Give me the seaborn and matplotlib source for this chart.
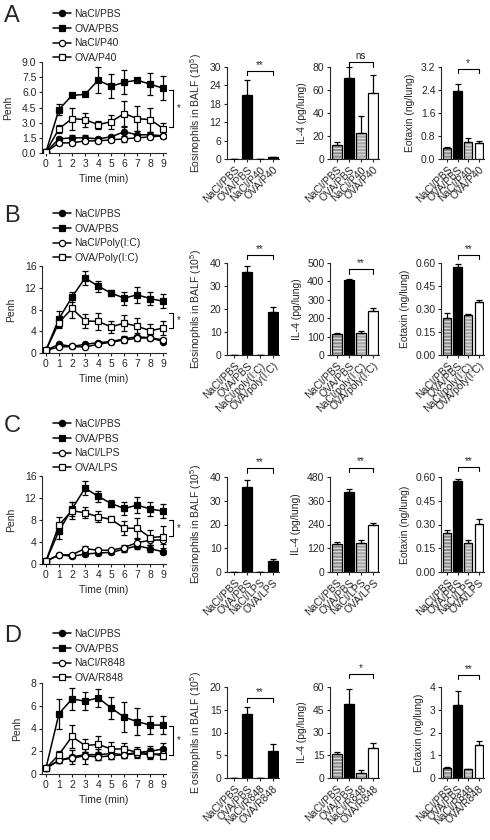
import numpy as np
import matplotlib
matplotlib.use("Agg")
import matplotlib.pyplot as plt
import matplotlib.ticker as mticker
from matplotlib.patches import Rectangle
import seaborn as sns

# ---- Penh time course (0-9 min), mean and SEM ----
minutes = list(range(10))

A_nacl_pbs = [0.1, 1.4, 1.5, 1.5, 1.4, 1.6, 2.1, 1.8, 1.8, 1.7]
A_nacl_pbs_sem = [0.05, 0.2, 0.3, 0.3, 0.2, 0.2, 0.5, 0.4, 0.3, 0.2]
A_ova_pbs = [0.1, 4.3, 5.7, 5.8, 7.2, 6.6, 7.0, 7.2, 6.8, 6.4]
A_ova_pbs_sem = [0.05, 0.5, 0.2, 0.2, 1.3, 1.2, 1.2, 0.2, 1.1, 1.2]
A_nacl_trt = [0.1, 1.0, 1.0, 1.2, 1.2, 1.3, 1.4, 1.5, 1.6, 1.7]
A_nacl_trt_sem = [0.05, 0.2, 0.2, 0.2, 0.2, 0.2, 0.3, 0.2, 0.2, 0.2]
A_ova_trt = [0.1, 2.4, 3.4, 3.3, 2.8, 3.1, 3.9, 3.4, 3.3, 2.4]
A_ova_trt_sem = [0.05, 0.4, 1.1, 0.7, 0.4, 0.7, 1.2, 1.2, 1.2, 0.6]

B_nacl_pbs = [0.5, 1.6, 1.2, 1.6, 1.9, 2.1, 2.6, 3.0, 2.8, 2.1]
B_nacl_pbs_sem = [0.2, 0.3, 0.3, 0.3, 0.3, 0.3, 0.5, 0.6, 0.5, 0.3]
B_ova_pbs = [0.5, 6.3, 10.3, 13.8, 12.3, 11.0, 10.1, 10.7, 10.0, 9.5]
B_ova_pbs_sem = [0.2, 1.5, 1.0, 1.3, 1.0, 0.6, 1.2, 1.5, 1.2, 1.3]
B_nacl_trt = [0.5, 1.1, 1.2, 1.1, 1.6, 2.0, 2.4, 2.7, 2.8, 2.4]
B_nacl_trt_sem = [0.2, 0.2, 0.2, 0.2, 0.3, 0.3, 0.6, 0.5, 0.4, 0.4]
B_ova_trt = [0.5, 5.6, 8.2, 5.9, 5.8, 4.8, 5.5, 4.9, 4.1, 4.6]
B_ova_trt_sem = [0.2, 1.0, 1.8, 1.3, 1.5, 1.1, 1.5, 1.5, 1.2, 1.2]

C_nacl_pbs = [0.5, 1.7, 1.4, 1.8, 2.0, 2.1, 2.7, 3.3, 2.8, 2.2]
C_nacl_pbs_sem = [0.2, 0.3, 0.3, 0.4, 0.3, 0.3, 0.5, 0.6, 0.6, 0.4]
C_ova_pbs = [0.5, 6.0, 10.0, 13.8, 12.3, 11.0, 10.1, 10.7, 10.0, 9.6]
C_ova_pbs_sem = [0.2, 1.5, 1.3, 1.3, 1.0, 0.6, 1.2, 1.5, 1.2, 1.3]
C_nacl_trt = [0.5, 1.6, 1.7, 2.8, 2.5, 2.5, 3.0, 3.9, 4.3, 4.4]
C_nacl_trt_sem = [0.2, 0.2, 0.2, 0.5, 0.4, 0.3, 0.4, 0.6, 0.8, 0.8]
C_ova_trt = [0.5, 7.1, 9.7, 9.3, 8.6, 8.1, 6.5, 6.5, 4.8, 5.0]
C_ova_trt_sem = [0.2, 1.5, 1.5, 1.0, 1.0, 0.3, 1.3, 1.8, 1.3, 2.0]

D_nacl_pbs = [0.5, 1.2, 1.5, 1.7, 1.7, 1.8, 1.7, 1.9, 2.0, 2.2]
D_nacl_pbs_sem = [0.1, 0.2, 0.6, 0.8, 0.5, 0.5, 0.3, 0.3, 0.5, 0.5]
D_ova_pbs = [0.5, 5.3, 6.6, 6.4, 6.7, 5.8, 5.0, 4.6, 4.3, 4.3]
D_ova_pbs_sem = [0.1, 1.3, 1.0, 0.8, 0.8, 1.0, 1.3, 1.2, 0.8, 0.8]
D_nacl_trt = [0.5, 1.2, 1.4, 1.6, 1.5, 1.6, 1.7, 1.8, 1.7, 1.8]
D_nacl_trt_sem = [0.1, 0.2, 0.3, 0.3, 0.3, 0.3, 0.3, 0.3, 0.3, 0.3]
D_ova_trt = [0.5, 1.7, 3.3, 2.5, 2.6, 2.2, 2.2, 1.9, 1.8, 1.6]
D_ova_trt_sem = [0.1, 0.3, 1.0, 0.6, 0.7, 0.6, 0.5, 0.5, 0.5, 0.3]

# ---- group names ----
A_legend = ["NaCl/PBS", "OVA/PBS", "NaCl/P40", "OVA/P40"]
B_legend = ["NaCl/PBS", "OVA/PBS", "NaCl/Poly(I:C)", "OVA/Poly(I:C)"]
C_legend = ["NaCl/PBS", "OVA/PBS", "NaCl/LPS", "OVA/LPS"]
D_legend = ["NaCl/PBS", "OVA/PBS", "NaCl/R848", "OVA/R848"]

A_groups = ["NaCl/PBS", "OVA/PBS", "NaCl/P40", "OVA/P40"]
B_groups = ["NaCl/PBS", "OVA/PBS", "NaCl/poly(I:C)", "OVA/poly(I:C)"]
C_groups = ["NaCl/PBS", "OVA/PBS", "NaCl/LPS", "OVA/LPS"]
D_groups = ["NaCl/PBS", "OVA/PBS", "NaCl/R848", "OVA/R848"]

# ---- bar data: eosinophils, IL-4, eotaxin ----
A_eos = [0, 20.8, 0, 0.5]
A_eos_sem = [0, 4.8, 0, 0.3]
A_il4 = [12.5, 70, 22.5, 57]
A_il4_sem = [2, 10, 14.5, 16]
A_eotaxin = [0.40, 2.35, 0.58, 0.55]
A_eotaxin_sem = [0.02, 0.25, 0.15, 0.08]

B_eos = [0, 36, 0, 18.8]
B_eos_sem = [0, 2.8, 0, 2.0]
B_il4 = [115, 405, 118, 238]
B_il4_sem = [3, 10, 12, 15]
B_eotaxin = [0.24, 0.575, 0.26, 0.345]
B_eotaxin_sem = [0.035, 0.017, 0.006, 0.015]

C_eos = [0, 36, 0, 4.8]
C_eos_sem = [0, 2.8, 0, 0.8]
C_il4 = [140, 405, 145, 235]
C_il4_sem = [10, 12, 15, 12]
C_eotaxin = [0.245, 0.575, 0.185, 0.305]
C_eotaxin_sem = [0.02, 0.015, 0.015, 0.03]

D_eos = [0, 14, 0, 6]
D_eos_sem = [0, 1.5, 0, 1.5]
D_il4 = [15.5, 48.5, 3, 20]
D_il4_sem = [1.8, 10.5, 2, 3]
D_eotaxin = [0.45, 3.22, 0.38, 1.47]
D_eotaxin_sem = [0.03, 0.62, 0.02, 0.15]

penh_sig = ["*", "*", "*", "*"]
eos_sig = ["**", "**", "**", "**"]
il4_sig = ["ns", "**", "**", "*"]
eotaxin_sig = ["*", "**", "**", "**"]

eos_label = ["Eosinophils in BALF (10$^5$)"] * 3 + ["E osinophils in BALF (10$^5$)"]

sns.set_theme(style="ticks")
plt.rcParams['font.family'] = ['Liberation Sans', 'DejaVu Sans']
plt.rcParams['mathtext.default'] = 'regular'
plt.rcParams['axes.linewidth'] = 0.8
plt.rcParams['xtick.major.width'] = 0.8
plt.rcParams['ytick.major.width'] = 0.8
plt.rcParams['xtick.major.size'] = 2.5
plt.rcParams['ytick.major.size'] = 2.5
plt.rcParams['xtick.major.pad'] = 1.5
plt.rcParams['ytick.major.pad'] = 1.5
plt.rcParams['hatch.linewidth'] = 0.9

W, H = 490, 840
fig = plt.figure(figsize=(W / 100, H / 100), dpi=100)


def px_axes(x0, x1, y0, y1):
    # pixel box (top-left origin) -> figure axes
    return fig.add_axes([x0 / W, 1 - y1 / H, (x1 - x0) / W, (y1 - y0) / H])


rows = [
    dict(letter="A", legend=A_legend, groups=A_groups,
         lines=[(A_nacl_pbs, A_nacl_pbs_sem), (A_ova_pbs, A_ova_pbs_sem),
                (A_nacl_trt, A_nacl_trt_sem), (A_ova_trt, A_ova_trt_sem)],
         bars=[(A_eos, A_eos_sem), (A_il4, A_il4_sem), (A_eotaxin, A_eotaxin_sem)]),
    dict(letter="B", legend=B_legend, groups=B_groups,
         lines=[(B_nacl_pbs, B_nacl_pbs_sem), (B_ova_pbs, B_ova_pbs_sem),
                (B_nacl_trt, B_nacl_trt_sem), (B_ova_trt, B_ova_trt_sem)],
         bars=[(B_eos, B_eos_sem), (B_il4, B_il4_sem), (B_eotaxin, B_eotaxin_sem)]),
    dict(letter="C", legend=C_legend, groups=C_groups,
         lines=[(C_nacl_pbs, C_nacl_pbs_sem), (C_ova_pbs, C_ova_pbs_sem),
                (C_nacl_trt, C_nacl_trt_sem), (C_ova_trt, C_ova_trt_sem)],
         bars=[(C_eos, C_eos_sem), (C_il4, C_il4_sem), (C_eotaxin, C_eotaxin_sem)]),
    dict(letter="D", legend=D_legend, groups=D_groups,
         lines=[(D_nacl_pbs, D_nacl_pbs_sem), (D_ova_pbs, D_ova_pbs_sem),
                (D_nacl_trt, D_nacl_trt_sem), (D_ova_trt, D_ova_trt_sem)],
         bars=[(D_eos, D_eos_sem), (D_il4, D_il4_sem), (D_eotaxin, D_eotaxin_sem)]),
]

# layout (pixels) and axis styling per row
line_box = [(62, 153), (266, 353), (476, 564), (683, 774)]
bar_box = [(67, 159), (263, 355), (477, 572), (687, 778)]
legend_y = [15, 215, 425, 635]
penh_lim = [(9, 1.5, '%.1f'), (16, 4, '%d'), (16, 4, '%d'), (8, 2, '%d')]
penh_bracket = [(6.2, 2.6), (7.4, 4.6), (8.0, 5.1), (4.2, 1.7)]
bar_lims = [
    [(30, 6, '%d'), (80, 20, '%d'), (3.2, 0.8, '%.1f')],
    [(40, 10, '%d'), (500, 100, '%d'), (0.60, 0.15, '%.2f')],
    [(40, 10, '%d'), (480, 120, '%d'), (0.60, 0.15, '%.2f')],
    [(20, 5, '%d'), (60, 15, '%d'), (4, 1, '%d')],
]
bar_bracket_frac = [
    [0.96, 1.05, 0.98],
    [1.09, 0.93, 1.09],
    [1.09, 1.10, 1.11],
    [0.88, 1.14, 1.13],
]
bar_x = [(227, 279), (330, 379), (441, 484)]
markers = ["o", "s", "o", "s"]
faces = ["black", "black", "white", "white"]
bar_faces = ["#8c8c8c", "black", "#a8a8a8", "white"]
fs = 7.5

for r, row in enumerate(rows):
    # ---------- Penh line plot ----------
    ax = px_axes(42, 166, *line_box[r])
    for (mean, sem), mk, fc, name in zip(row["lines"], markers, faces, row["legend"]):
        ax.errorbar(minutes, mean, yerr=sem, fmt='none', ecolor='black',
                    elinewidth=0.9, capsize=2.5, capthick=0.9, label='_nolegend_', zorder=2)
        sns.lineplot(x=minutes, y=mean, color='black', marker=mk, markersize=4.5,
                     markerfacecolor=fc, markeredgecolor='black', markeredgewidth=0.9,
                     linewidth=1.1, label=name, ax=ax, zorder=3)
    ymax, step, fmt = penh_lim[r]
    ax.set_xlim(-0.3, 9.2)
    ax.set_ylim(0, ymax)
    ax.set_xticks(minutes)
    ax.set_yticks(np.arange(0, ymax + step / 2, step))
    ax.yaxis.set_major_formatter(mticker.FormatStrFormatter(fmt))
    ax.tick_params(labelsize=fs)
    ax.set_xlabel("Time (min)", fontsize=fs, labelpad=4)
    ax.set_ylabel("Penh", fontsize=fs, labelpad=6)
    sns.despine(ax=ax)
    top, bot = penh_bracket[r]
    ax.plot([9.45, 9.7, 9.7, 9.45], [top, top, bot, bot], color='black', lw=0.8, clip_on=False)
    ax.text(10.15, (top + bot) / 2, penh_sig[r], fontsize=7, ha='center', va='center')
    handles, labels = ax.get_legend_handles_labels()
    ax.legend(handles, labels, loc='upper left',
              bbox_to_anchor=(53 / W, 1 - (legend_y[r] - 6) / H), bbox_transform=fig.transFigure,
              frameon=False, fontsize=fs, handlelength=1.7, handletextpad=0.35,
              labelspacing=0.45, borderpad=0, borderaxespad=0)
    fig.text(4 / W, 1 - (legend_y[r] + 1) / H, row["letter"], fontsize=17, ha='left', va='center')

    # ---------- bar plots ----------
    ylabels = [eos_label[r], "IL-4 (pg/lung)", "Eotaxin (ng/lung)"]
    sigs = [eos_sig[r], il4_sig[r], eotaxin_sig[r]]
    for k, (mean, sem) in enumerate(row["bars"]):
        bx = px_axes(bar_x[k][0], bar_x[k][1], *bar_box[r])
        colors = ["black"] * 4 if k == 0 else bar_faces
        sns.barplot(x=row["groups"], y=mean, hue=row["groups"], palette=colors,
                    legend=False, width=0.78, edgecolor='black', linewidth=0.9, ax=bx)
        for p, c in zip(bx.patches, colors):
            if c not in ("black", "white"):
                p.set_hatch('-----')
                p.set_edgecolor('#dcdcdc')
                p.set_linewidth(0)
                bx.add_patch(Rectangle(p.get_xy(), p.get_width(), p.get_height(),
                                       fill=False, edgecolor='black', linewidth=0.9, zorder=3))
        bx.errorbar(range(len(mean)), mean, yerr=[np.zeros(len(sem)), sem], fmt='none',
                    ecolor='black', elinewidth=0.9, capsize=2.5, capthick=0.9, zorder=4)
        ymax, step, fmt = bar_lims[r][k]
        bx.set_xlim(-0.56, 3.48)
        bx.set_ylim(0, ymax)
        bx.set_yticks(np.arange(0, ymax + step / 2, step))
        bx.yaxis.set_major_formatter(mticker.FormatStrFormatter(fmt))
        bx.tick_params(axis='y', labelsize=fs)
        bx.tick_params(axis='x', labelsize=fs)
        plt.setp(bx.get_xticklabels(), rotation=45, ha='right', rotation_mode='anchor')
        bx.set_ylabel(ylabels[k], fontsize=fs, labelpad=4)
        bx.set_xlabel("")
        sns.despine(ax=bx)
        # significance bracket OVA/PBS vs OVA/treatment
        centers = [p.get_x() + p.get_width() / 2 for p in bx.patches[:4]]
        y = bar_bracket_frac[r][k] * ymax
        h = 0.045 * ymax
        bx.plot([centers[1], centers[1], centers[3], centers[3]], [y - h, y, y, y - h],
                color='black', lw=0.8, clip_on=False)
        bx.text((centers[1] + centers[3]) / 2, y + 0.01 * ymax, sigs[k], fontsize=7,
                ha='center', va='bottom')

fig.savefig("out.png", dpi=100)
